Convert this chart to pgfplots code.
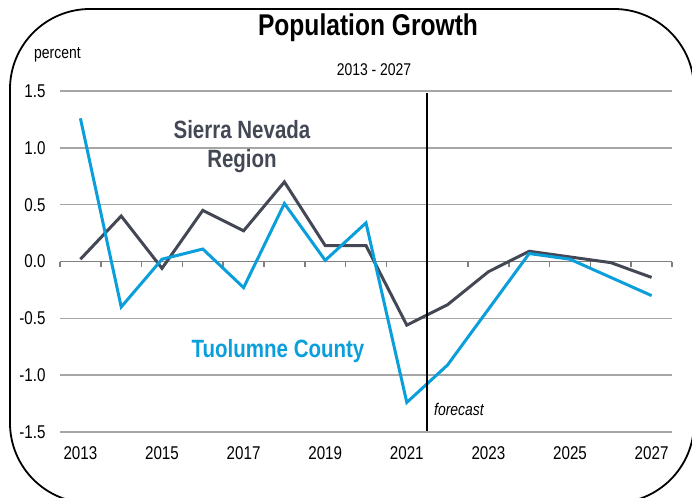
\documentclass[border=0pt]{standalone}
\usepackage{fontspec}
\setmainfont{Liberation Sans}[FakeStretch=0.82]
\usepackage{pgfplots}
\pgfplotsset{compat=1.18}
\definecolor{slate}{HTML}{434854}
\definecolor{tblue}{HTML}{0A9FDB}
\definecolor{gridc}{HTML}{A6A6A6}
\definecolor{zeroc}{HTML}{7F7F7F}
\begin{document}
\begin{tikzpicture}
\useasboundingbox (0pt,0pt) rectangle (692pt,-497pt);
\begin{scope}
\clip (0pt,0pt) rectangle (692pt,-497pt);
\draw[line width=1.8pt, rounded corners=80pt] (10pt,-9pt) rectangle (694pt,-503pt);
\end{scope}
\begin{axis}[
  at={(60pt,-432pt)}, anchor=south west,
  scale only axis, width=612pt, height=341pt,
  xmin=2012.5, xmax=2027.5, ymin=-1.5, ymax=1.5,
  axis line style={draw=none},
  tick style={draw=none},
  ytick={-1.5,-1,-0.5,0,0.5,1,1.5},
  yticklabels={-1.5,-1.0,-0.5,0.0,0.5,1.0,1.5},
  xtick={2013,2015,2017,2019,2021,2023,2025,2027},
  xticklabels={2013,2015,2017,2019,2021,2023,2025,2027},
  ymajorgrids, grid style={gridc, line width=1.5pt},
  ticklabel style={font=\fontsize{18.5}{21}\selectfont},
  yticklabel style={xshift=-11pt},
  xticklabel style={yshift=-11pt},
  clip=false,
]
\draw[zeroc, line width=1.5pt] (axis cs:2012.5,0) -- (axis cs:2027.5,0);
\pgfplotsinvokeforeach{2012.5,2013.5,...,2027.5}{
  \draw[zeroc, line width=1.5pt] (axis cs:#1,0) -- ++(0pt,-5pt);
}
\addplot[slate, line width=3pt] coordinates {
(2013,0.02) (2014,0.40) (2015,-0.06) (2016,0.45) (2017,0.27) (2018,0.70)
(2019,0.14) (2020,0.14) (2021,-0.56) (2022,-0.38) (2023,-0.09) (2024,0.09)
(2025,0.04) (2026,-0.01) (2027,-0.14)};
\addplot[tblue, line width=3pt] coordinates {
(2013,1.26) (2014,-0.40) (2015,0.02) (2016,0.11) (2017,-0.23) (2018,0.51)
(2019,0.01) (2020,0.34) (2021,-1.24) (2022,-0.91) (2023,-0.42) (2024,0.07)
(2025,0.02) (2026,-0.14) (2027,-0.30)};
\draw[black, line width=2pt] (axis cs:2021.5,1.48) -- (axis cs:2021.5,-1.49);
\end{axis}
\node[anchor=base, font=\fontsize{30}{34}\bfseries] at (368pt,-36pt) {Population Growth};
\node[anchor=base, font=\fontsize{17}{20}\selectfont] at (374pt,-76pt) {2013 - 2027};
\node[anchor=base west, inner sep=0pt, font=\fontsize{17}{20}\selectfont] at (34pt,-59pt) {percent};
\node[anchor=base, text=slate, font=\fontsize{25}{28}\bfseries] at (242pt,-139pt) {Sierra Nevada};
\node[anchor=base, text=slate, font=\fontsize{25}{28}\bfseries] at (242pt,-167pt) {Region};
\node[anchor=base, text=tblue, font=\fontsize{25}{28}\bfseries] at (278pt,-357pt) {Tuolumne County};
\node[anchor=base west, inner sep=0pt, font=\fontsize{17}{20}\itshape] at (434pt,-415pt) {forecast};
\end{tikzpicture}
\end{document}
